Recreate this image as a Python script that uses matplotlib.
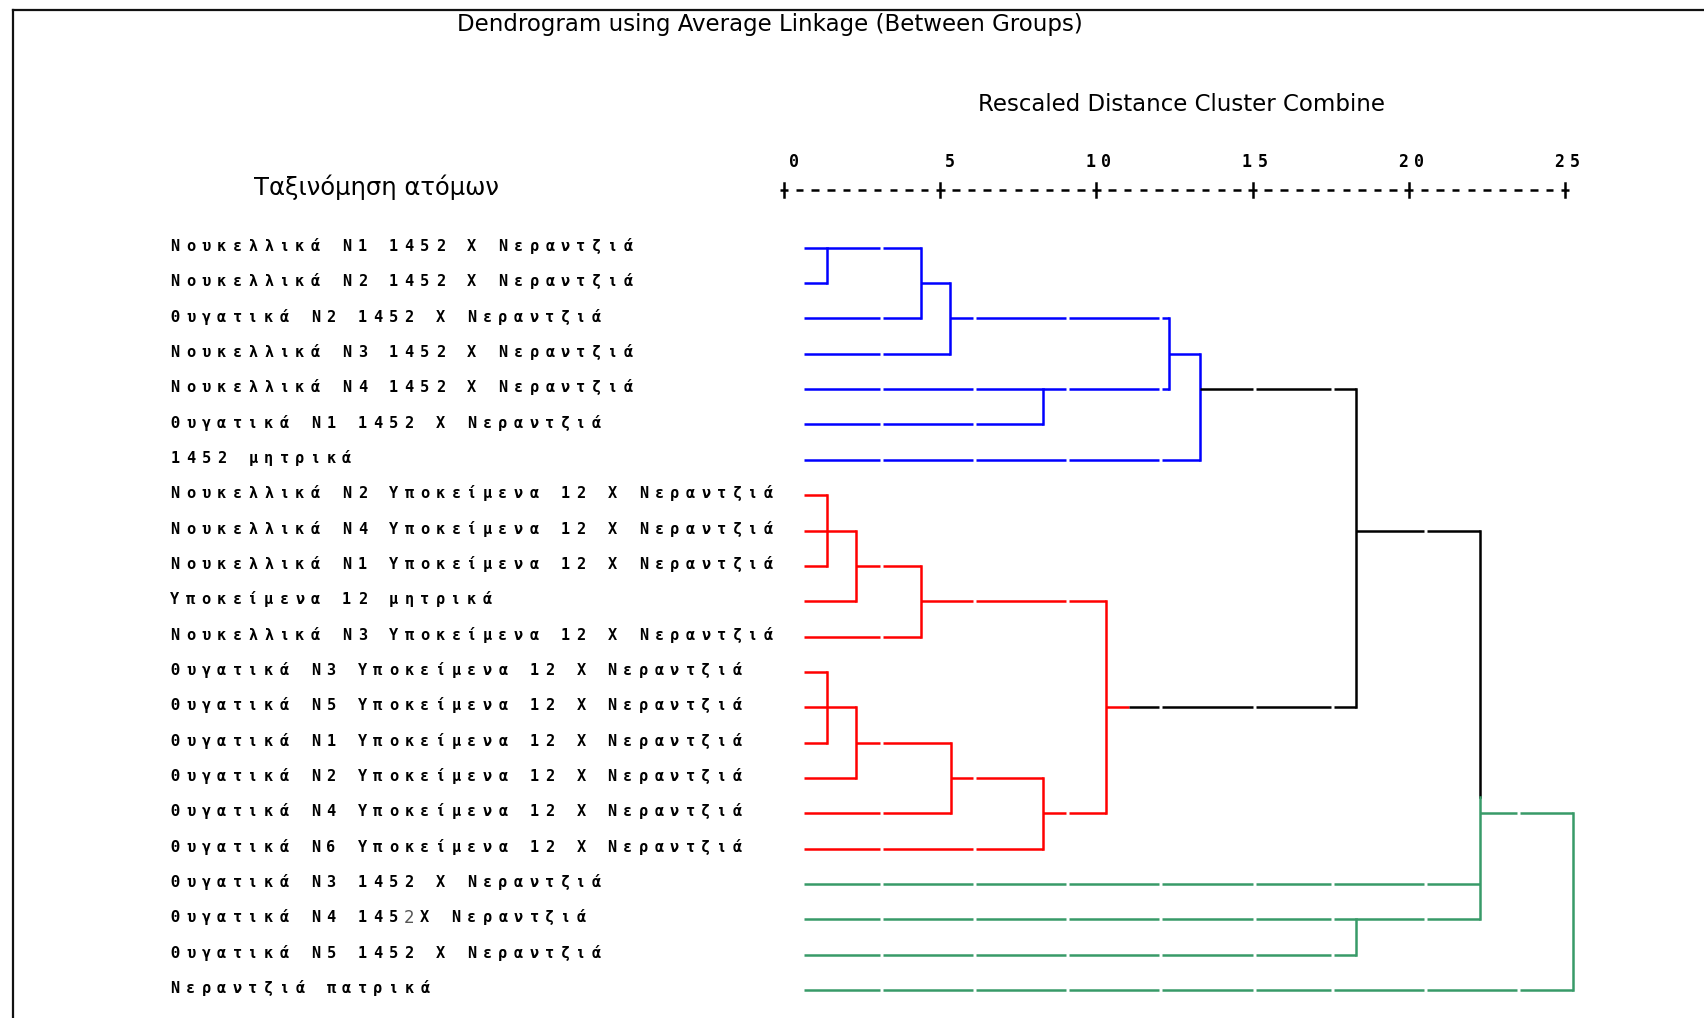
import matplotlib
matplotlib.use("Agg")
import matplotlib.pyplot as plt
from matplotlib.lines import Line2D

# ---------------- data ----------------
labels = [
    "Νουκελλικά Ν1 1452 Χ Νεραντζιά",
    "Νουκελλικά Ν2 1452 Χ Νεραντζιά",
    "Θυγατικά Ν2 1452 Χ Νεραντζιά",
    "Νουκελλικά Ν3 1452 Χ Νεραντζιά",
    "Νουκελλικά Ν4 1452 Χ Νεραντζιά",
    "Θυγατικά Ν1 1452 Χ Νεραντζιά",
    "1452 μητρικά",
    "Νουκελλικά Ν2 Υποκείμενα 12 Χ Νεραντζιά",
    "Νουκελλικά Ν4 Υποκείμενα 12 Χ Νεραντζιά",
    "Νουκελλικά Ν1 Υποκείμενα 12 Χ Νεραντζιά",
    "Υποκείμενα 12 μητρικά",
    "Νουκελλικά Ν3 Υποκείμενα 12 Χ Νεραντζιά",
    "Θυγατικά Ν3 Υποκείμενα 12 Χ Νεραντζιά",
    "Θυγατικά Ν5 Υποκείμενα 12 Χ Νεραντζιά",
    "Θυγατικά Ν1 Υποκείμενα 12 Χ Νεραντζιά",
    "Θυγατικά Ν2 Υποκείμενα 12 Χ Νεραντζιά",
    "Θυγατικά Ν4 Υποκείμενα 12 Χ Νεραντζιά",
    "Θυγατικά Ν6 Υποκείμενα 12 Χ Νεραντζιά",
    "Θυγατικά Ν3 1452 Χ Νεραντζιά",
    "Θυγατικά Ν4 1452Χ Νεραντζιά",
    "Θυγατικά Ν5 1452 Χ Νεραντζιά",
    "Νεραντζιά πατρικά",
]
leaf_groups = ["blue"] * 7 + ["red"] * 11 + ["green"] * 4
plain_chars = [(20, 15)]          # (row, char index) drawn in the lighter font

# merges of the dendrogram (rescaled distances)
merge_names = ["B1", "B2", "B3", "B4", "B5", "B6",
               "R1", "R2", "R3", "R4", "R5", "R6", "R7", "R8",
               "K1", "G1", "K2", "G2"]
merge_dist = [1.37, 4.38, 5.32, 8.29, 12.33, 13.31,
              1.37, 2.31, 4.37, 1.37, 2.31, 5.34, 8.29, 10.31,
              18.31, 18.31, 22.28, 25.27]
merge_children = [[1, 2], ["B1", 3], ["B2", 4], [5, 6], ["B3", "B4"], ["B5", 7],
                  [8, 9, 10], ["R1", 11], ["R2", 12], [13, 14, 15], ["R4", 16],
                  ["R5", 17], ["R6", 18], ["R3", "R7"],
                  ["B6", "R8"], [20, 21], ["K1", 19, "G1"], ["K2", 22]]
merge_out_row = [1, 2, 3, 5, 4, 5, 9, 10, 11, 14, 15, 16, 17, 14, 9, 20, 17, None]
merge_colour = ["blue"] * 6 + ["red"] * 8 + ["black", "green", "black", "green"]
merge_out_colour = ["blue"] * 5 + ["black"] + ["red"] * 7 + ["black",
                    "black", "green", "green", None]
out_stub = {"R8": ("red", 0.72)}          # short coloured start of an outgoing line
vertical_split = {"K2": (16.55, "green")}  # lower part of a vertical in another colour

ticks = [0, 5, 10, 15, 20, 25]
title = "Dendrogram using Average Linkage (Between Groups)"
axis_title = "Rescaled Distance Cluster Combine"
label_header = "Ταξινόμηση ατόμων"

# ---------------- layout ----------------
W, H, DPI = 1704, 1018, 100
X0_PX, PX_PER_U = 784.0, 31.24
ROW1_PX, ROW_PX = 247.8, 35.34

def ux(px):
    return (px - X0_PX) / PX_PER_U

def ry(py):
    return 1 + (py - ROW1_PX) / ROW_PX

COLORS = {"blue": "#0000ff", "red": "#ff0000", "green": "#389a68", "black": "#000000"}
LW = 1.8
LEAF_START = 0.64
GAPS = [3.07, 6.05, 9.03, 12.0, 15.0, 17.5, 20.48, 23.46]
GAP_W = 0.1
CELL = 0.5                     # one character cell in distance units
LABEL_CELL0 = -0.25 - 39 * CELL  # left edge of first label character

fig = plt.figure(figsize=(W / DPI, H / DPI), dpi=DPI)
ax = fig.add_axes([0, 0, 1, 1])
ax.set_xlim(ux(0), ux(W))
ax.set_ylim(ry(H), ry(0))
ax.axis("off")


def hline(row, x0, x1, colour):
    pts = [x0]
    for g in GAPS:
        if x0 < g and g + GAP_W < x1:
            pts += [g, g + GAP_W]
    pts.append(x1)
    for a, b in zip(pts[0::2], pts[1::2]):
        ax.plot([a, b], [row, row], color=COLORS[colour], lw=LW,
                solid_capstyle="butt")


def vline(x, r0, r1, colour):
    ax.plot([x, x], [r0, r1], color=COLORS[colour], lw=LW,
            solid_capstyle="projecting")


# ---------------- dendrogram ----------------
pos = {}
for i, g in enumerate(leaf_groups, start=1):
    pos[i] = (LEAF_START, i, g, None)

for name, d, kids, orow, col, ocol in zip(merge_names, merge_dist, merge_children,
                                           merge_out_row, merge_colour, merge_out_colour):
    rows = []
    for k in kids:
        x0, row, c, stub = pos[k]
        if stub is not None:
            hline(row, x0, x0 + stub[1], stub[0])
            x0 = x0 + stub[1]
        hline(row, x0, d, c)
        rows.append(row)
    lo, hi = min(rows), max(rows)
    if name in vertical_split:
        split, scol = vertical_split[name]
        vline(d, lo, split, col)
        vline(d, split, hi, scol)
    else:
        vline(d, lo, hi, col)
    if orow is not None:
        pos[name] = (d, orow, ocol, out_stub.get(name))

# ---------------- labels (monospaced character grid) ----------------
mono = ["DejaVu Sans Mono"]
for r, lab in enumerate(labels, start=1):
    for i, ch in enumerate(lab):
        if ch == " ":
            continue
        plain = (r, i) in plain_chars
        ax.text(LABEL_CELL0 + CELL * (i + 0.5), r - 0.04, ch,
                ha="center", va="center", fontsize=12 if plain else 11,
                family=["DejaVu Sans"] if plain else mono,
                fontweight="normal" if plain else "bold",
                color="#555555" if plain else "black")

# ---------------- ruler ----------------
ruler_row = ry(190)
for j, t in enumerate(ticks):
    vline(t, ruler_row - 0.2, ruler_row + 0.2, "black")
    ax.plot([t - 0.14, t + 0.14], [ruler_row, ruler_row], color="black", lw=LW,
            solid_capstyle="butt")
    s = str(t)
    for k, ch in enumerate(s):
        cx = t + 0.32 - CELL * (len(s) - 1 - k)
        ax.text(cx, ry(162), ch, ha="center", va="center", fontsize=12,
                family=mono, fontweight="bold")
    if j < len(ticks) - 1:
        for k in range(1, 10):
            c = t + k * CELL
            ax.plot([c - 0.12, c + 0.12], [ruler_row, ruler_row], color="black",
                    lw=LW, solid_capstyle="butt")

# ---------------- titles ----------------
ax.text(ux(770), ry(25), title, ha="center", va="center", fontsize=16.5,
        family=["DejaVu Sans"])
ax.text(ux(1182), ry(105), axis_title, ha="center", va="center", fontsize=16.5,
        family=["DejaVu Sans"])
ax.text(ux(376), ry(187), label_header, ha="center", va="center", fontsize=17.5,
        family=["DejaVu Sans"])

# ---------------- frame ----------------
fig.add_artist(Line2D([13 / W, 1], [1 - 10 / H, 1 - 10 / H], color="#111111",
                      lw=1.6, transform=fig.transFigure))
fig.add_artist(Line2D([13 / W, 13 / W], [0, 1 - 10 / H], color="#111111",
                      lw=1.6, transform=fig.transFigure))

fig.savefig("out.png", dpi=DPI)
